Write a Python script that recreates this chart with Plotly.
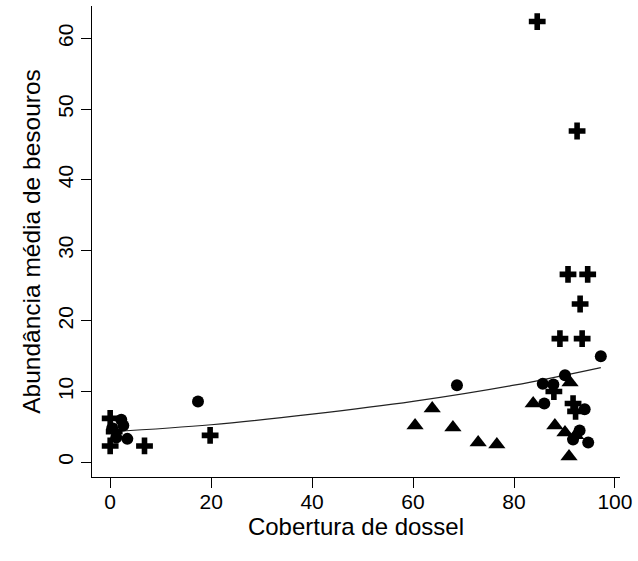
import plotly.graph_objects as go

# Circles (filled)
circ_x = [2.2, 2.6, 0.4, 1.2, 3.4, 17.4, 68.7, 97.2, 90.1, 85.7, 87.8, 86.0, 94.0, 93.0, 94.7, 91.7]
circ_y = [6.0, 5.2, 4.8, 3.5, 3.3, 8.6, 10.9, 15.0, 12.3, 11.1, 11.0, 8.3, 7.5, 4.5, 2.8, 3.2]

# Triangles (filled)
tri_x = [60.4, 63.8, 67.9, 72.9, 76.6, 83.8, 91.1, 88.1, 90.1, 90.9, 92.2]
tri_y = [5.2, 7.6, 4.9, 2.8, 2.5, 8.3, 11.3, 5.2, 4.2, 0.8, 3.8]

# Crosses
crs_x = [84.6, 92.5, 90.7, 94.6, 93.1, 89.1, 93.5, 87.9, 91.7, 92.2, 0.0, 0.0, 0.8, 6.8, 19.8]
crs_y = [62.4, 46.9, 26.6, 26.6, 22.4, 17.5, 17.5, 10.0, 8.3, 7.2, 6.2, 2.3, 4.3, 2.3, 3.8]

# Fitted curve
fit_x = [0, 20, 40, 60, 80, 97.2]
fit_y = [4.3, 5.3, 6.8, 8.6, 10.9, 13.4]

x_ticks = [0, 20, 40, 60, 80, 100]
y_ticks = [0, 10, 20, 30, 40, 50, 60]

FONT = "Liberation Sans, Arial, sans-serif"

fig = go.Figure()
fig.add_trace(go.Scatter(x=fit_x, y=fit_y, mode="lines", line=dict(color="#222222", width=1.2, shape="spline"),
                         hoverinfo="skip"))
fig.add_trace(go.Scatter(x=circ_x, y=circ_y, mode="markers",
                         marker=dict(symbol="circle", size=12, color="black", line=dict(width=0))))
fig.add_trace(go.Scatter(x=tri_x, y=tri_y, mode="markers",
                         marker=dict(symbol="triangle-up", size=15, color="black", line=dict(width=0))))
fig.add_trace(go.Scatter(x=crs_x, y=crs_y, mode="markers",
                         marker=dict(symbol="cross", size=14, color="black", line=dict(width=0))))

fig.update_layout(
    width=638, height=561,
    margin=dict(l=92, r=18, t=6, b=84),
    paper_bgcolor="white", plot_bgcolor="white",
    showlegend=False,
    font=dict(family=FONT, color="black", size=21),
)
fig.update_xaxes(range=[-3.6, 101.0], tickvals=x_ticks, ticktext=[str(v) for v in x_ticks],
                 showgrid=False, zeroline=False, showline=True, linecolor="black", linewidth=1,
                 ticks="outside", ticklen=10, tickcolor="black", tickwidth=1,
                 ticklabelstandoff=-4,
                 tickfont=dict(size=21, family=FONT),
                 title=dict(text="Cobertura de dossel", font=dict(size=24, family=FONT), standoff=0))
fig.update_yaxes(range=[-2.1, 64.6], tickvals=y_ticks, ticktext=[str(v) for v in y_ticks],
                 showgrid=False, zeroline=False, showline=True, linecolor="black", linewidth=1,
                 ticks="outside", ticklen=10, tickcolor="black", tickwidth=1, tickangle=-90,
                 tickfont=dict(size=21, family=FONT),
                 title=dict(text="Abundância média de besouros", font=dict(size=24.5, family=FONT), standoff=6))

fig.write_html("out.html")
